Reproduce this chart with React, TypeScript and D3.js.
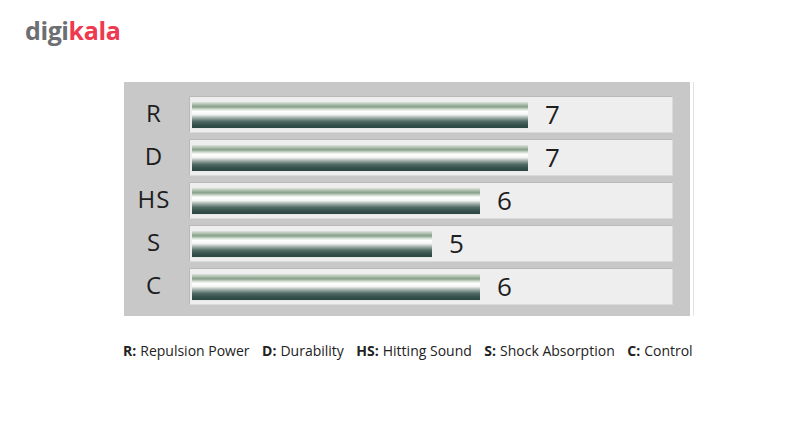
import React, { useEffect, useRef } from "react";
import * as d3 from "d3";

const categories = ["R", "D", "HS", "S", "C"];
const values = [7, 7, 6, 5, 6];
const legendKeys = ["R:", "D:", "HS:", "S:", "C:"];
const legendNames = ["Repulsion Power", "Durability", "Hitting Sound", "Shock Absorption", "Control"];
const domainMax = 10;

export default function App() {
  const ref = useRef<SVGSVGElement>(null);

  useEffect(() => {
    const svg = d3.select(ref.current);
    svg.selectAll("*").remove();

    const defs = svg.append("defs");
    const grad = defs.append("linearGradient").attr("id", "barGrad").attr("x1", 0).attr("y1", 0).attr("x2", 0).attr("y2", 1);
    const stops: [number, string][] = [
      [0, "#d8dfd8"], [0.08, "#b3c3b3"], [0.18, "#86a088"], [0.28, "#d5dfd5"], [0.36, "#ffffff"],
      [0.48, "#f2f4f2"], [0.6, "#a2b0ab"], [0.74, "#526c65"], [0.88, "#34504a"], [1, "#2d4743"],
    ];
    stops.forEach(([o, c]) => grad.append("stop").attr("offset", o).attr("stop-color", c));

    // logo
    const logo = svg.append("text").attr("x", 25).attr("y", 40)
      .attr("font-family", "'Open Sans', sans-serif").attr("font-weight", 700).attr("font-size", 25)
      .attr("letter-spacing", -0.4);
    logo.append("tspan").attr("fill", "#6d6e71").text("digi");
    logo.append("tspan").attr("fill", "#ef394e").text("kala");

    // panel
    svg.append("rect").attr("x", 124).attr("y", 82).attr("width", 566).attr("height", 234).attr("fill", "#c8c8c8");
    svg.append("line").attr("x1", 693.5).attr("x2", 693.5).attr("y1", 82).attr("y2", 316).attr("stroke", "#e2e2e2");

    const x = d3.scaleLinear().domain([0, domainMax]).range([192, 672]);
    const y = d3.scaleBand().domain(categories).range([96, 304]).paddingInner(0.163).paddingOuter(0);
    const bh = y.bandwidth();

    const rows = svg.selectAll("g.row").data(categories).enter().append("g").attr("class", "row")
      .attr("transform", (d) => `translate(0,${y(d)})`);

    rows.append("rect").attr("x", 189.5).attr("y", 0.5).attr("width", x(domainMax) - 189).attr("height", bh)
      .attr("fill", "#eeeeee").attr("stroke", "#dadada");
    rows.append("path").attr("d", `M189.5,${bh + 0.5} V0.5 H${x(domainMax) + 0.5}`).attr("fill", "none").attr("stroke", "#b9b9b9");

    rows.append("rect").attr("x", x(0)).attr("y", bh * 0.17).attr("width", (d, i) => x(values[i]) - x(0))
      .attr("height", bh * 0.72).attr("fill", "url(#barGrad)");

    rows.append("text").attr("x", 154).attr("y", bh / 2 + 8.5).attr("text-anchor", "middle")
      .attr("font-family", "'Open Sans', sans-serif")
      .attr("font-size", 24).attr("letter-spacing", 1).attr("fill", "#1e1e1e").text((d) => d);

    rows.append("text").attr("x", (d, i) => x(values[i]) + 17).attr("y", bh / 2 + 10).attr("font-family", "'Open Sans', sans-serif")
      .attr("font-size", 26).attr("fill", "#1e1e1e").text((d, i) => String(values[i]));

    // legend
    const leg = svg.append("text").attr("x", 123).attr("y", 356)
      .attr("font-family", "'Open Sans', sans-serif").attr("font-size", 14).attr("fill", "#222");
    legendKeys.forEach((k, i) => {
      leg.append("tspan").attr("font-weight", 700).attr("dx", i === 0 ? 0 : 12.5).text(k);
      leg.append("tspan").attr("dx", 4).text(legendNames[i]);
    });
  }, []);

  return (
    <svg ref={ref} width={800} height={438} style={{ position: "absolute", left: 0, top: 0, background: "#fff" }} />
  );
}
